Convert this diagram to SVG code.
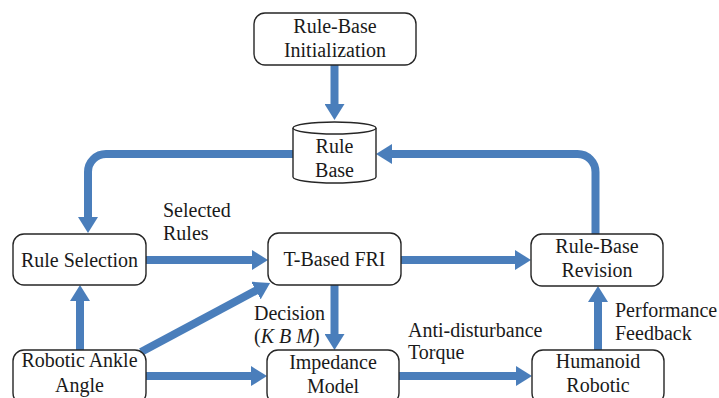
<svg xmlns="http://www.w3.org/2000/svg" width="719" height="398" viewBox="0 0 719 398">
<defs>
<style>
.box{fill:#fff;stroke:#262626;stroke-width:1.4}
.c{text-anchor:middle}
.a{fill:none;stroke:#4A7EBB;stroke-width:8;marker-end:url(#ah)}
</style>
<marker id="ah" markerUnits="userSpaceOnUse" markerWidth="16" markerHeight="20" refX="8" refY="10" orient="auto">
<path d="M0,0 L16,10 L0,20 z" fill="#4A7EBB"/>
</marker>
</defs>
<rect width="719" height="398" fill="#fff"/>
<g id="connectors">
<path class="a" d="M334.5,65 L334.5,112"/>
<path class="a" d="M293,154 L106,154 A18,18 0 0 0 88,172 L88,225"/>
<path class="a" d="M595.5,234 L595.5,172 A18,18 0 0 0 577.5,154 L384,154"/>
<path class="a" d="M146,260 L260,260"/>
<path class="a" d="M401,260 L523,260"/>
<path class="a" d="M334.5,285 L334.5,342"/>
<path class="a" d="M80,350 L80,293"/>
<path class="a" d="M141,352 L263,286.8"/>
<path class="a" d="M146,376 L259,376"/>
<path class="a" d="M399,376 L524,376"/>
<path class="a" d="M598,350 L598,294"/>
</g>
<g font-family="Liberation Serif, serif" font-size="20" fill="#1a1a1a">
<g id="init">
<rect class="box" x="254" y="13" width="162" height="52" rx="11"/>
<text class="c" x="335" y="33">Rule-Base</text>
<text class="c" x="335" y="57">Initialization</text>
</g>
<g id="rulebase">
<path class="box" d="M293,128 L293,177 A41.5,6 0 0 0 376,177 L376,128"/>
<ellipse class="box" cx="334.5" cy="128" rx="41.5" ry="6"/>
<text class="c" x="334.5" y="153">Rule</text>
<text class="c" x="334.5" y="177">Base</text>
</g>
<g id="ruleselection">
<rect class="box" x="13" y="234" width="133" height="51" rx="11"/>
<text class="c" x="79.5" y="267">Rule Selection</text>
</g>
<g id="tbased">
<rect class="box" x="268" y="233" width="133" height="52" rx="11"/>
<text class="c" x="334.5" y="266">T-Based FRI</text>
</g>
<g id="revision">
<rect class="box" x="531" y="234" width="132" height="52" rx="11"/>
<text class="c" x="597" y="253">Rule-Base</text>
<text class="c" x="597" y="277">Revision</text>
</g>
<g id="ankle">
<rect class="box" x="13" y="350" width="133" height="54" rx="11"/>
<text class="c" x="79.5" y="367">Robotic Ankle</text>
<text class="c" x="79.5" y="392">Angle</text>
</g>
<g id="impedance">
<rect class="box" x="267" y="350" width="132" height="54" rx="11"/>
<text class="c" x="333" y="369">Impedance</text>
<text class="c" x="333" y="393">Model</text>
</g>
<g id="humanoid">
<rect class="box" x="532" y="350" width="132" height="54" rx="11"/>
<text class="c" x="598" y="368">Humanoid</text>
<text class="c" x="598" y="392">Robotic</text>
</g>
<g id="labels">
<text x="163" y="217">Selected</text>
<text x="163" y="240">Rules</text>
<text x="254" y="320">Decision</text>
<text x="254" y="343">(<tspan font-style="italic">K B M</tspan>)</text>
<text x="408" y="337">Anti-disturbance</text>
<text x="408" y="359">Torque</text>
<text x="615" y="317">Performance</text>
<text x="615" y="340">Feedback</text>
</g>
</g>
</svg>
